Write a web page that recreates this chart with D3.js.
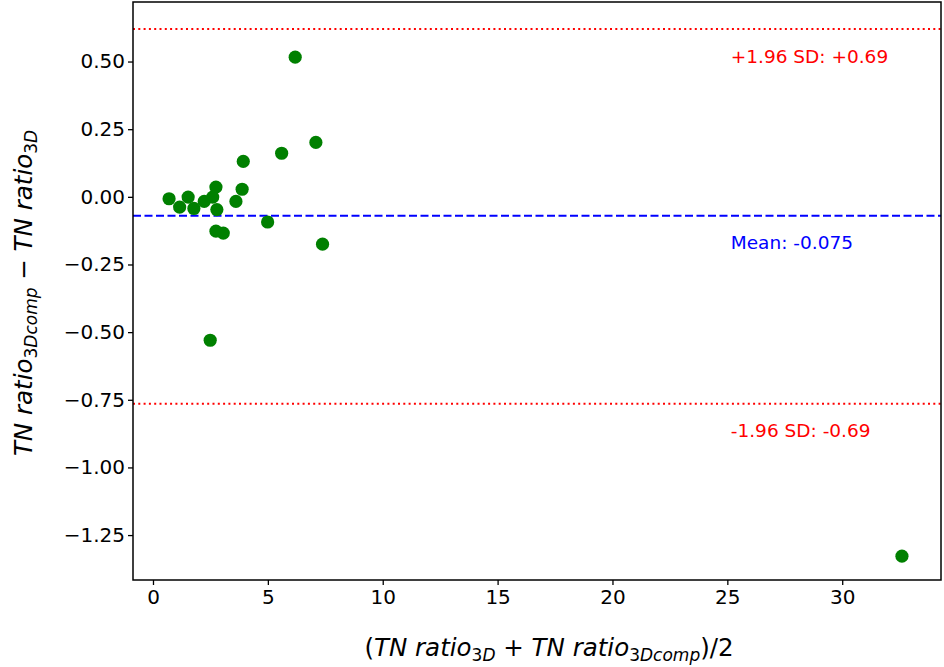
<!DOCTYPE html>
<html>
<head>
<meta charset="utf-8">
<script src="https://cdn.jsdelivr.net/npm/d3@7"></script>
<style>
  body { margin: 0; background: #fff; }
  svg { display: block; font-family: "DejaVu Sans", sans-serif; }
</style>
</head>
<body>
<svg id="chart" width="944" height="667"></svg>
<script>
// Bland-Altman data
const meanValues = [0.70, 1.16, 1.53, 1.78, 2.23, 2.60, 2.74, 2.78, 2.74, 3.06, 3.61, 3.88, 3.93, 4.99, 5.60, 7.09, 7.38, 6.19, 2.49, 32.6];
const diffValues = [-0.007, -0.038, -0.001, -0.043, -0.017, -0.001, 0.036, -0.047, -0.127, -0.134, -0.017, 0.028, 0.131, -0.093, 0.161, 0.201, -0.175, 0.516, -0.530, -1.328];
const xTicks = [0, 5, 10, 15, 20, 25, 30];
const yTicks = [0.50, 0.25, 0.00, -0.25, -0.50, -0.75, -1.00, -1.25];
const xDomain = [-0.87, 34.3];
const yDomain = [-1.416, 0.72];
const meanLine = -0.070;
const upperLine = 0.620;
const lowerLine = -0.765;
const labelX = 25.15;
const labelOffset = 0.1;
const meanLabel = "Mean: -0.075";
const upperLabel = "+1.96 SD: +0.69";
const lowerLabel = "-1.96 SD: -0.69";

const svg = d3.select("#chart");
const L = 133, R = 941, T = 2, B = 580;

const x = d3.scaleLinear().domain(xDomain).range([L, R]);
const y = d3.scaleLinear().domain(yDomain).range([B, T]);

const data = meanValues.map((m, i) => ({ m, d: diffValues[i] }));

// reference lines
svg.append("line")
  .attr("x1", L).attr("x2", R).attr("y1", y(upperLine)).attr("y2", y(upperLine))
  .attr("stroke", "#ff0000").attr("stroke-width", 2).attr("stroke-dasharray", "2,3.3");
svg.append("line")
  .attr("x1", L).attr("x2", R).attr("y1", y(lowerLine)).attr("y2", y(lowerLine))
  .attr("stroke", "#ff0000").attr("stroke-width", 2).attr("stroke-dasharray", "2,3.3");
svg.append("line")
  .attr("x1", L).attr("x2", R).attr("y1", y(meanLine)).attr("y2", y(meanLine))
  .attr("stroke", "#0000ff").attr("stroke-width", 2.2).attr("stroke-dasharray", "8,3.5");

// points
svg.append("g").selectAll("circle").data(data).join("circle")
  .attr("cx", d => x(d.m)).attr("cy", d => y(d.d)).attr("r", 6.6)
  .attr("fill", "#008000");

// annotations
const ann = [
  { v: upperLine, t: upperLabel, c: "#ff0000" },
  { v: meanLine, t: meanLabel, c: "#0000ff" },
  { v: lowerLine, t: lowerLabel, c: "#ff0000" }
];
svg.append("g").selectAll("text").data(ann).join("text")
  .attr("x", x(labelX)).attr("y", d => y(d.v - labelOffset))
  .attr("dominant-baseline", "central")
  .attr("font-size", 18.5).attr("fill", d => d.c)
  .text(d => d.t);

// axes
const xAxis = d3.axisBottom(x).tickValues(xTicks).tickSize(5).tickPadding(5).tickFormat(d3.format("d"));
const yAxis = d3.axisLeft(y).tickValues(yTicks).tickSize(5).tickPadding(3)
  .tickFormat(d => d3.format(".2f")(d).replace("-", "\u2212"));

const gx = svg.append("g").attr("transform", `translate(0,${B})`).call(xAxis);
const gy = svg.append("g").attr("transform", `translate(${L},0)`).call(yAxis);
[gx, gy].forEach(g => {
  g.select(".domain").remove();
  g.selectAll(".tick line").attr("stroke", "#000").attr("stroke-width", 1.3);
  g.selectAll(".tick text").attr("font-size", 20).attr("fill", "#000").attr("font-family", "DejaVu Sans");
});

// frame
svg.append("rect").attr("x", L).attr("y", T).attr("width", R - L).attr("height", B - T)
  .attr("fill", "none").attr("stroke", "#000").attr("stroke-width", 1.5);

// axis labels
const xl = svg.append("text").attr("x", (L + R) / 2 + 12).attr("y", 656)
  .attr("text-anchor", "middle").attr("font-size", 24.5).attr("fill", "#000");
xl.append("tspan").text("(");
xl.append("tspan").attr("font-style", "italic").text("TN ratio");
xl.append("tspan").attr("font-size", 17).attr("dy", 5).text("3");
xl.append("tspan").attr("font-size", 17).attr("font-style", "italic").text("D");
xl.append("tspan").attr("dy", -5).text(" + ");
xl.append("tspan").attr("font-style", "italic").text("TN ratio");
xl.append("tspan").attr("font-size", 17).attr("dy", 5).text("3");
xl.append("tspan").attr("font-size", 17).attr("font-style", "italic").text("Dcomp");
xl.append("tspan").attr("dy", -5).text(")/2");

const yl = svg.append("text").attr("transform", `translate(32,${(T + B) / 2 + 2}) rotate(-90)`)
  .attr("text-anchor", "middle").attr("font-size", 24.5).attr("fill", "#000");
yl.append("tspan").attr("font-style", "italic").text("TN ratio");
yl.append("tspan").attr("font-size", 17).attr("dy", 5).text("3");
yl.append("tspan").attr("font-size", 17).attr("font-style", "italic").text("Dcomp");
yl.append("tspan").attr("dy", -5).text(" \u2212 ");
yl.append("tspan").attr("font-style", "italic").text("TN ratio");
yl.append("tspan").attr("font-size", 17).attr("dy", 5).text("3");
yl.append("tspan").attr("font-size", 17).attr("font-style", "italic").text("D");
</script>
</body>
</html>
